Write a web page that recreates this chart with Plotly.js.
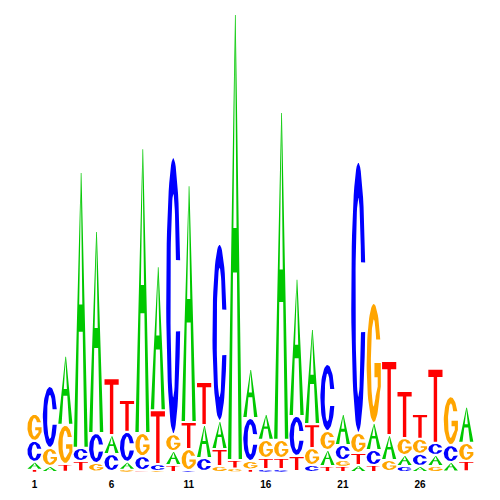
<!DOCTYPE html>
<html>
<head>
<meta charset="utf-8">
<script src="https://cdn.plot.ly/plotly-3.0.1.min.js"></script>
<style>html,body{margin:0;padding:0;background:#fff;}#chart{width:500px;height:500px;}</style>
</head>
<body>
<div id="chart"></div>
<script>
// Positions of the motif
const positions = [1,2,3,4,5,6,7,8,9,10,11,12,13,14,15,16,17,18,19,20,21,22,23,24,25,26,27,28,29];
const tickValues = [1,6,11,16,21,26];
const tickLabels = ["1","6","11","16","21","26"];
const bases = ["A","C","G","T"];
// Letter heights (bits) per position
const heightA = [0.031,0.022,0.302,1.208,0.884,0.083,0.031,1.247,0.630,0.061,1.037,0.144,0.123,1.952,0.214,0.114,1.435,0.600,0.416,0.070,0.136,0.026,0.118,0.109,0.048,0.022,0.048,0.039,0.158];
const heightC = [0.092,0.271,0,0.057,0.131,0.074,0.131,0.061,0.026,1.212,0.004,0.057,0.775,0,0.188,0.009,0.009,0.175,0.026,0.293,0.066,1.186,0.066,0,0.022,0.053,0.053,0.074,0];
const heightG = [0.118,0.079,0.171,0,0.035,0,0.009,0.101,0.004,0.074,0.092,0,0.022,0.013,0.035,0.079,0.079,0,0.074,0.083,0.026,0.088,0.525,0.048,0.074,0.066,0.022,0.214,0.079];
const heightT = [0.009,0,0.031,0.044,0,0.249,0.140,0.004,0.236,0.026,0.118,0.188,0.074,0.035,0.009,0.048,0.048,0.066,0.105,0.022,0.022,0.053,0.026,0.324,0.206,0.109,0.324,0,0.044];
const baseColors = {A:"#00c800", C:"#0000ff", G:"#ffa500", T:"#ff0000"};

const heights = {A:heightA, C:heightC, G:heightG, T:heightT};

function ellipsePts(rx, ry, a0, a1, n) {
  const pts = [];
  for (let k = 0; k <= n; k++) {
    const a = (a0 + (a1 - a0) * k / n) * Math.PI / 180;
    pts.push([0.5 + rx * Math.cos(a), 0.5 + ry * Math.sin(a)]);
  }
  return pts;
}

function glyph(b) {
  if (b === "A") {
    return [[0,0],[0.45,1],[0.5,1],[0.5,0.9],[0.39,0.52],[0.61,0.52],[0.5,0.9],[0.5,1],[0.55,1],[1,0],[0.76,0],[0.639,0.42],[0.361,0.42],[0.24,0]];
  }
  if (b === "T") {
    return [[0,1],[1,1],[1,0.9],[0.62,0.9],[0.62,0],[0.38,0],[0.38,0.9],[0,0.9]];
  }
  if (b === "C") {
    const outer = ellipsePts(0.5, 0.5, 15, 345, 60);
    const inner = ellipsePts(0.2, 0.37, 339.4, 20.6, 60);
    return outer.concat(inner);
  }
  // G
  const outer = ellipsePts(0.5, 0.5, 23.6, 330, 60);
  const right = [[1.0,0.3],[1.0,0.5],[0.55,0.5],[0.55,0.38],[0.78,0.38],[0.78,0.3]];
  const inner = ellipsePts(0.2, 0.37, 315, 32.7, 60);
  return outer.concat(right, inner);
}

const letterWidth = 0.92;
const xs = {A:[],C:[],G:[],T:[]};
const ys = {A:[],C:[],G:[],T:[]};
positions.forEach((p, i) => {
  const items = bases.map(b => ({b: b, h: heights[b][i]})).filter(d => d.h > 0).sort((u, v) => u.h - v.h);
  let y0 = 0;
  items.forEach(d => {
    const gap = Math.min(0.009, 0.18 * d.h);
    const gh = d.h - gap;
    glyph(d.b).forEach(pt => {
      xs[d.b].push(p - letterWidth / 2 + pt[0] * letterWidth);
      ys[d.b].push(y0 + gap + pt[1] * gh);
    });
    xs[d.b].push(null); ys[d.b].push(null);
    y0 += d.h;
  });
});

const traces = bases.map(b => ({
  type: "scatter", mode: "lines", x: xs[b], y: ys[b],
  fill: "toself", fillcolor: baseColors[b],
  line: {width: 0, color: baseColors[b]},
  hoverinfo: "skip", showlegend: false, name: b
}));

const layout = {
  width: 500, height: 500,
  margin: {l: 20, r: 20, t: 15, b: 28},
  paper_bgcolor: "#fff", plot_bgcolor: "#fff",
  xaxis: {range: [0.0597, 29.891], showgrid: false, zeroline: false, showline: false,
          tickmode: "array", tickvals: tickValues, ticktext: tickLabels,
          ticks: "outside", ticklen: 3, tickcolor: "rgba(0,0,0,0)",
          tickfont: {family: "Liberation Sans", size: 10, color: "#000", weight: "bold"}, fixedrange: true},
  yaxis: {range: [0, 2], showgrid: false, zeroline: false, showline: false, showticklabels: false, ticks: "", fixedrange: true},
  showlegend: false
};
Plotly.newPlot("chart", traces, layout, {displayModeBar: false, staticPlot: true});
</script>
</body>
</html>
